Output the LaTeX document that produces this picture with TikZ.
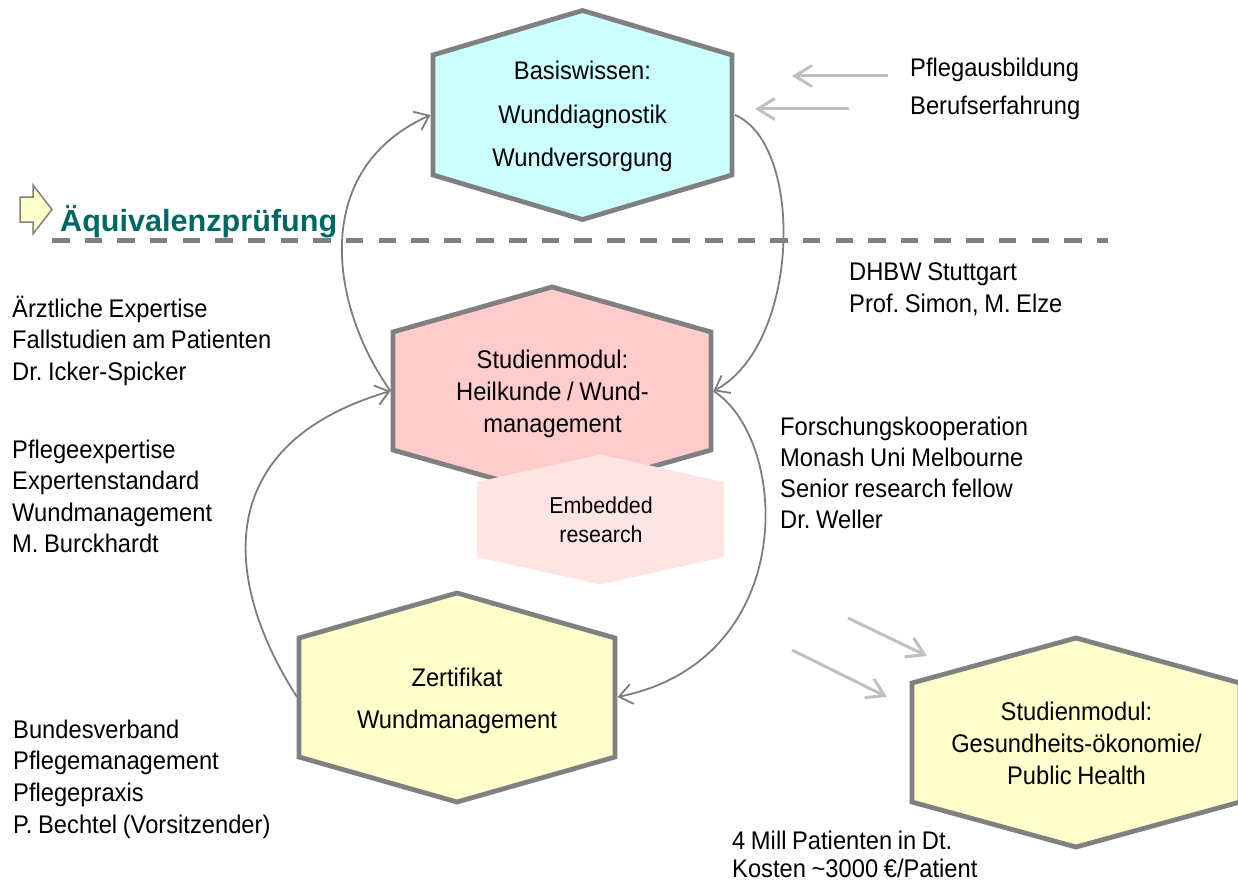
\documentclass[tikz,border=0pt]{standalone}
\usepackage{fontspec}
\setmainfont{Liberation Sans}[FakeStretch=0.93, WordSpace=0.85]
\newfontfamily\headfont{Liberation Sans}
\usetikzlibrary{arrows.meta}
\frenchspacing

\definecolor{hexgray}{RGB}{128,128,128}
\definecolor{linkgray}{RGB}{125,125,125}
\definecolor{feedgray}{RGB}{192,192,192}
\definecolor{cyanfill}{RGB}{204,255,255}
\definecolor{pinkfill}{RGB}{255,204,204}
\definecolor{blushfill}{RGB}{255,228,228}
\definecolor{softyellow}{RGB}{255,255,204}
\definecolor{headteal}{RGB}{0,104,100}

% hexagon: style, centre x, centre y, half width, half side height, tip height
\newcommand\hexagonpath[6]{%
  \path[#1] (#2-#4,#3-#5) -- (#2,#3-#5-#6) -- (#2+#4,#3-#5)
    -- (#2+#4,#3+#5) -- (#2,#3+#5+#6) -- (#2-#4,#3+#5) -- cycle;}
\newcommand\leftlines[1]{\begin{tabular}[t]{@{}l@{}}#1\end{tabular}}
\newcommand\midlines[1]{\begin{tabular}[t]{@{}c@{}}#1\end{tabular}}

\tikzset{
  hexa/.style={draw=hexgray, line width=4.8pt, line join=miter},
  link/.style={draw=linkgray, line width=1.8pt, -{Straight Barb[length=13pt,width=20pt]}},
  feed/.style={draw=feedgray, line width=3pt, -{Straight Barb[length=17pt,width=21pt]}},
  lbl/.style={inner sep=0pt, anchor=base west},
  hextext/.style={inner sep=0pt, anchor=base},
}

\begin{document}
\begin{tikzpicture}[x=1pt, y=-1pt, font=\fontsize{25.5}{31.5}\selectfont]
\useasboundingbox (0,0) rectangle (1238,880);
\clip (0,0) rectangle (1238,880);

% separator with heading
\draw[hexgray, line width=4.5pt, dash pattern=on 17.5pt off 15.15pt] (52,240.5) -- (1108,240.5);
\path[draw=hexgray, line width=1.5pt, fill=softyellow]
  (20,197) -- (33,197) -- (33,185) -- (52,209.5) -- (33,234) -- (33,222) -- (20,222) -- cycle;
\node[lbl, text=headteal, font=\headfont\bfseries\fontsize{30.6}{36}\selectfont] (head) at (60,231) {Äquivalenzprüfung};

% hexagons
\hexagonpath{hexa, fill=cyanfill}{582.5}{115}{149.5}{60}{44.5}
\hexagonpath{hexa, fill=pinkfill}{552}{391}{159}{59}{45}
\hexagonpath{fill=blushfill}{600.5}{519.5}{123.5}{37.5}{27.5}
\hexagonpath{hexa, fill=softyellow}{457}{697.5}{158}{59.5}{45}
\hexagonpath{hexa, fill=softyellow}{1076}{742.5}{164}{59.5}{45}

\node[hextext, font=\fontsize{25.5}{43.5}\selectfont] (bw) at (582.5,80)
  {\midlines{Basiswissen:\\Wunddiagnostik\\Wundversorgung}};
\node[hextext, font=\fontsize{25.5}{32}\selectfont] (hk) at (552.5,368)
  {\midlines{Studienmodul:\\Heilkunde / Wund-\\management}};
\node[hextext, font=\fontsize{23}{29}\selectfont] (er) at (601,513)
  {\midlines{Embedded\\research}};
\node[hextext, font=\fontsize{25.5}{42}\selectfont] (zw) at (457,686)
  {\midlines{Zertifikat\\Wundmanagement}};
\node[hextext, font=\fontsize{25.5}{32}\selectfont] (go) at (1076.5,720)
  {\midlines{Studienmodul:\\Gesundheits-ökonomie/\\Public Health}};

% connection points on the hexagon borders
\coordinate (bw-w) at (430.5,115);
\coordinate (bw-e) at (735,115);
\coordinate (hk-w) at (390.5,391);
\coordinate (hk-e) at (713.5,391);
\coordinate (zw-w) at (297,697);
\coordinate (zw-e) at (617.5,697);

% curved connectors
\draw[link] (hk-w) .. controls (331,308) and (308,170) .. (bw-w);
\draw[link] (zw-w) .. controls (222,580) and (211,444) .. (hk-w);
\draw[link] (bw-e) .. controls (805,145) and (800,345) .. (hk-e);
\draw[link] (hk-e) .. controls (790,440) and (800,660) .. (zw-e);

% incoming arrows
\coordinate (pa-s) at (888,76);   \coordinate (pa-t) at (792,76);
\coordinate (be-s) at (849,109);  \coordinate (be-t) at (755,109);
\coordinate (g1-s) at (848,618);  \coordinate (g1-t) at (927,656);
\coordinate (g2-s) at (792,650);  \coordinate (g2-t) at (887,697);
\draw[feed] (pa-s) -- (pa-t);
\draw[feed] (be-s) -- (be-t);
\draw[feed] (g1-s) -- (g1-t);
\draw[feed] (g2-s) -- (g2-t);

% side labels
\node[lbl, font=\fontsize{25.5}{38}\selectfont] (src) at (910,77)
  {\leftlines{Pflegausbildung\\Berufserfahrung}};
\node[lbl, font=\fontsize{25.5}{32}\selectfont] (dhbw) at (849,280)
  {\leftlines{DHBW Stuttgart\\Prof. Simon, M. Elze}};
\node[lbl] (arzt) at (12,317)
  {\leftlines{Ärztliche Expertise\\Fallstudien am Patienten\\Dr. Icker-Spicker}};
\node[lbl] (pflege) at (12,458)
  {\leftlines{Pflegeexpertise\\Expertenstandard\\Wundmanagement\\M. Burckhardt}};
\node[lbl, font=\fontsize{25.5}{31}\selectfont] (monash) at (780,435)
  {\leftlines{Forschungskooperation\\Monash Uni Melbourne\\Senior research fellow\\Dr. Weller}};
\node[lbl, font=\fontsize{25.5}{31.7}\selectfont] (bv) at (13,738)
  {\leftlines{Bundesverband\\Pflegemanagement\\Pflegepraxis\\P. Bechtel (Vorsitzender)}};
\node[lbl, font=\fontsize{25.5}{28}\selectfont] (cost) at (732,849)
  {\leftlines{4 Mill Patienten in Dt.\\Kosten \textasciitilde3000 €/Patient}};
\end{tikzpicture}
\end{document}
